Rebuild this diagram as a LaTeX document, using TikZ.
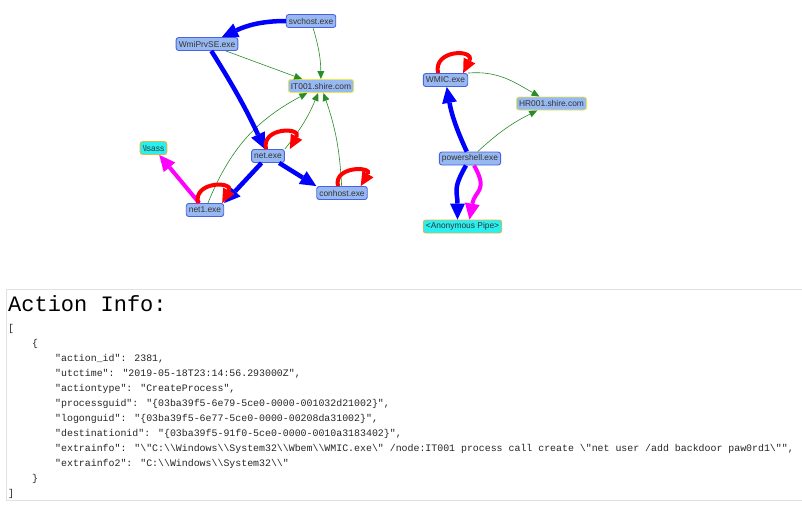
\documentclass[tikz,border=0pt]{standalone}
\usepackage{fontspec}
\usetikzlibrary{arrows.meta}
\newfontfamily\nodefont{Liberation Sans}
\newfontfamily\codefont{Liberation Mono}
\newcommand{\bs}{\textbackslash}
\definecolor{procfill}{RGB}{151,184,240}
\definecolor{procdraw}{RGB}{74,98,226}
\definecolor{hostdraw}{RGB}{232,232,80}
\definecolor{pipefill}{RGB}{40,240,240}
\definecolor{pipedraw}{RGB}{230,180,70}
\definecolor{netgreen}{RGB}{40,140,40}
\definecolor{injectpink}{RGB}{255,0,255}
\definecolor{panelgray}{RGB}{225,225,225}
\tikzset{
  procbox/.style={draw=procdraw, fill=procfill, rounded corners=2.5pt, line width=0.9pt,
    font=\nodefont\fontsize{8.4}{9}\selectfont, text=black!80, inner xsep=2.6pt, inner ysep=0pt,
    minimum height=13pt},
  hostbox/.style={procbox, draw=hostdraw},
  pipebox/.style={procbox, draw=pipedraw, fill=pipefill},
  spawnedge/.style={blue, line width=4.5pt, -{Triangle[length=16pt,width=15pt,line width=0pt]}},
  loopedge/.style={red, line width=4pt, -{Triangle[length=14pt,width=13pt,line width=0pt]}},
  injectedge/.style={injectpink, line width=4pt, -{Triangle[length=16pt,width=15pt,line width=0pt]}},
  netedge/.style={netgreen, line width=0.6pt, -{Triangle[length=8pt,width=7pt,line width=0pt]}},
  codeline/.style={anchor=base west, font=\codefont\fontsize{9.9}{12}\selectfont, inner sep=0pt, text=black!85},
}
\begin{document}
\begin{tikzpicture}[x=1pt,y=1pt]
  \useasboundingbox[fill=white] (0,0) rectangle (802,-507);
  % process graph
  \node[procbox] (svchost) at (311,-21) {svchost.exe};
  \node[procbox] (wmiprvse) at (207,-44) {WmiPrvSE.exe};
  \node[hostbox] (it001) at (321,-86) {IT001.shire.com};
  \node[pipebox] (lsass) at (153.5,-148) {\bs lsass};
  \node[procbox] (netexe) at (268,-156) {net.exe};
  \node[procbox] (net1) at (205,-210) {net1.exe};
  \node[procbox] (conhost) at (342,-193) {conhost.exe};
  \node[procbox] (wmic) at (445.5,-80) {WMIC.exe};
  \node[hostbox] (hr001) at (551.5,-103.5) {HR001.shire.com};
  \node[procbox] (powershell) at (470,-158.5) {powershell.exe};
  \node[pipebox] (anonpipe) at (462.5,-226.5) {<Anonymous Pipe>};
  \draw[netedge] (svchost) to[bend left=8] (it001);
  \draw[netedge] (wmiprvse) to (it001);
  \draw[netedge] (netexe.north east) to[bend right=8] (it001);
  \draw[netedge] (net1) to[bend left=20] (it001);
  \draw[netedge] (conhost) to[bend right=8] (it001);
  \draw[netedge] (wmic.north east) to[out=5,in=150] (hr001);
  \draw[netedge] (powershell) to[bend left=8] (hr001);
  \draw[spawnedge] (svchost) to[out=180,in=25] (wmiprvse);
  \draw[spawnedge] (wmiprvse) to[out=-58,in=115] (netexe);
  \draw[spawnedge] (netexe) to (net1.north east);
  \draw[spawnedge] (netexe) to (conhost.north west);
  \draw[spawnedge] (powershell) to[out=115,in=-80] (wmic);
  \draw[spawnedge] (powershell) to[out=-120,in=90,looseness=1.3] ([xshift=-5pt]anonpipe.north);
  \draw[injectedge] (net1) to (lsass);
  \draw[injectedge] (powershell) to[out=-60,in=80,looseness=1.4] ([xshift=7pt]anonpipe.north);
  \draw[loopedge] ([xshift=-2pt]netexe.north) .. controls +(-5,22) and +(12,22) .. ([xshift=5pt]netexe.north east);
  \draw[loopedge] ([xshift=-7pt]net1.north) .. controls +(-5,22) and +(12,22) .. ([xshift=-2pt]net1.north east);
  \draw[loopedge] ([xshift=-4pt]conhost.north) .. controls +(-5,20) and +(12,20) .. ([xshift=-7pt]conhost.north east);
  \draw[loopedge] ([xshift=-7.5pt]wmic.north) .. controls +(-5,24) and +(12,24) .. ([xshift=-5pt]wmic.north east);
  % action info panel
  \draw[panelgray, line width=0.8pt] (6,-289) rectangle (812,-500);
  \node[anchor=base west, font=\codefont\fontsize{22}{26}\selectfont, inner sep=0pt] (title) at (8,-311) {Action Info:};
  \node[codeline] (openlist) at (8,-331.5) {[};
  \node[codeline] (openobj) at (32,-346.5) {\{};
  \node[codeline] (actionid) at (55,-361.5) {"action\_id": 2381,};
  \node[codeline] (utctime) at (55,-376.5) {"utctime": "2019-05-18T23:14:56.293000Z",};
  \node[codeline] (actiontype) at (55,-391.5) {"actiontype": "CreateProcess",};
  \node[codeline] (processguid) at (55,-406.5) {"processguid": "\{03ba39f5-6e79-5ce0-0000-001032d21002\}",};
  \node[codeline] (logonguid) at (55,-421.5) {"logonguid": "\{03ba39f5-6e77-5ce0-0000-00208da31002\}",};
  \node[codeline] (destinationid) at (55,-436.5) {"destinationid": "\{03ba39f5-91f0-5ce0-0000-0010a3183402\}",};
  \node[codeline] (extrainfo) at (55,-451.5) {"extrainfo": "\bs"C:\bs\bs{}Windows\bs\bs{}System32\bs\bs{}Wbem\bs\bs{}WMIC.exe\bs" /node:IT001 process call create \bs"net user /add backdoor paw0rd1\bs"",};
  \node[codeline] (extrainfotwo) at (55,-466.5) {"extrainfo2": "C:\bs\bs{}Windows\bs\bs{}System32\bs\bs"};
  \node[codeline] (closeobj) at (32,-481.5) {\}};
  \node[codeline] (closelist) at (8,-496) {]};
\end{tikzpicture}
\end{document}
